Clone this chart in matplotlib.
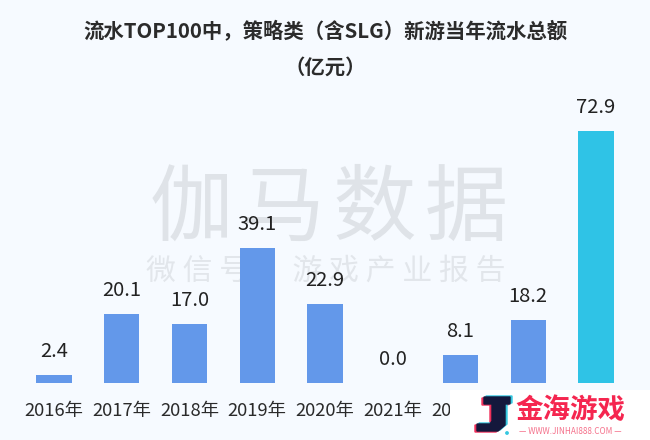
#!/usr/bin/python
# -*- coding: utf-8 -*-
import matplotlib
matplotlib.use('Agg')
import matplotlib.pyplot as plt
from matplotlib.patches import Polygon

plt.rcParams['font.family'] = ['Noto Sans CJK SC', 'DejaVu Sans']

years = ['2016年', '2017年', '2018年', '2019年', '2020年', '2021年', '2022年', '2023年', '2024年']
values = [2.4, 20.1, 17.0, 39.1, 22.9, 0.0, 8.1, 18.2, 72.9]
value_labels = ['2.4', '20.1', '17.0', '39.1', '22.9', '0.0', '8.1', '18.2', '72.9']
highlight_year = '2024年'

BG = '#f6faff'
BLUE = '#6398ea'
CYAN = '#2fc3e6'
W, H = 650, 440


def main():
    fig = plt.figure(figsize=(W / 100, H / 100), dpi=100, facecolor=BG)

    # axes baseline sits at y=383 px, bars are spaced 67.75 px
    ax = fig.add_axes([0, (H - 383) / H, 1, 383 / H], facecolor='none', zorder=2)
    ax.set_xlim(-54 / 67.75, (W - 54) / 67.75)
    ax.set_ylim(0, 383 / 3.457)
    for side in ax.spines:
        ax.spines[side].set_visible(False)
    ax.set_yticks([])

    colors = [CYAN if y == highlight_year else BLUE for y in years]
    pos = range(len(years))
    ax.bar(pos, values, width=0.52, color=colors, zorder=3)
    for p, v, lab in zip(pos, values, value_labels):
        ax.annotate(lab, (p, v), xytext=(0, 13), textcoords='offset pixels',
                    ha='center', va='bottom', fontsize=14.5, color='#222222', zorder=4)

    ax.set_xticks(list(pos))
    ax.set_xticklabels(years, fontsize=13.2, color='#2a2a2a')
    ax.tick_params(axis='x', length=0, pad=14)

    # watermark stays behind the axes, hair spaces come from DejaVu
    fig.text(329 / W, 1 - 209 / H, '伽\u200a马\u200a数\u200a据', fontsize=60, color='#dfe3e8',
             ha='center', va='center', zorder=0)
    fig.text(326 / W, 1 - 271 / H, '微 信 号 ： 游 戏 产 业 报 告', fontsize=21.5, color='#e2e6eb',
             ha='center', va='center', zorder=0)

    # title
    fig.text(325 / W, 1 - 32 / H, '流水TOP100中，策略类（含SLG）新游当年流水总额', fontsize=14.7,
             fontweight='bold', color='#2b2b2b', ha='center', va='center')
    fig.text(325 / W, 1 - 67 / H, '（亿元）', fontsize=14.7,
             fontweight='bold', color='#2b2b2b', ha='center', va='center')

    # logo box over the lower right corner, in pixel coordinates
    logo = fig.add_axes([450 / W, 0, 200 / W, 50 / H], facecolor='white', zorder=5)
    logo.set_xlim(450, 650)
    logo.set_ylim(440, 390)
    logo.axis('off')
    logo.add_patch(plt.Rectangle((450, 390), 200, 50, color='white'))
    j_shape = [(484, 397), (510, 397), (510, 404), (505, 404), (505, 425), (498, 431),
               (477, 431), (477, 424), (490, 424), (492, 421), (492, 404), (484, 404)]
    logo.add_patch(Polygon([(x - 2, y + 1) for x, y in j_shape], color='#f0305a'))
    logo.add_patch(Polygon([(x + 2, y - 1) for x, y in j_shape], color='#35c8e0'))
    logo.add_patch(Polygon(j_shape, color='#14183c'))
    logo.add_patch(plt.Circle((507, 433), 1.2, color='#35c8e0'))
    logo.text(570, 410, '金海游戏', fontsize=19.8, fontweight='bold', color='#f5264f',
              ha='center', va='center')
    logo.text(570, 431, '— WWW.JINHAI888.COM —', fontsize=5.9, color='#f5708a',
              ha='center', va='center')

    fig.savefig('out.png', dpi=100, facecolor=BG)


if __name__ == '__main__':
    main()
